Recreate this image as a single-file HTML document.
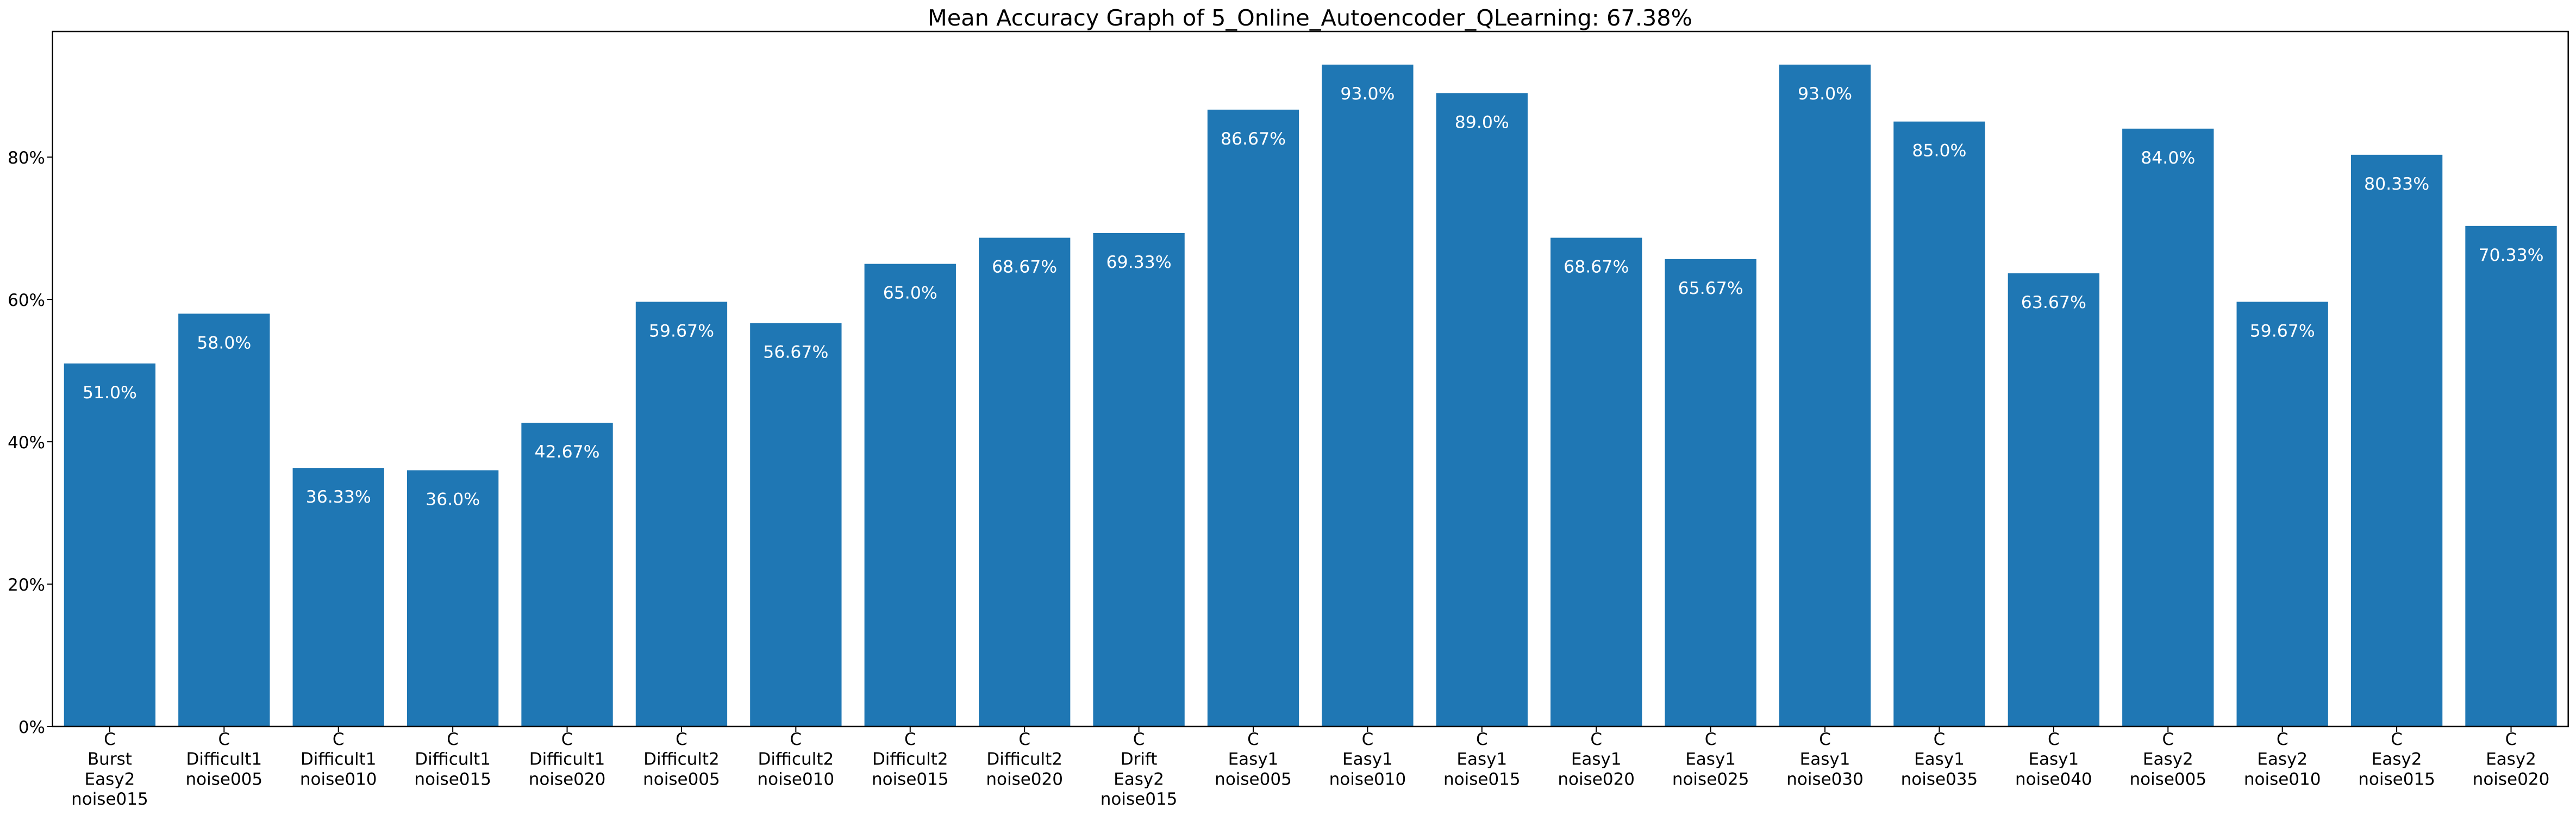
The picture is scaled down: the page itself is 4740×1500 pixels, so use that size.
<!DOCTYPE html>
<html><head><meta charset="utf-8"><style>
html,body{margin:0;padding:0;background:#fff;}
svg{display:block;font-family:"DejaVu Sans","Liberation Sans",sans-serif;}
</style></head><body>
<svg id="chart" width="4740" height="1500" viewBox="0 0 4740 1500" xmlns="http://www.w3.org/2000/svg">
<rect width="4740" height="1500" fill="#fff"/>
<text x="1707" y="47" font-size="41" textLength="1407" lengthAdjust="spacingAndGlyphs" fill="#000">Mean Accuracy Graph of 5_Online_Autoencoder_QLearning: 67.38%</text>
<g id="bars"></g>
<g id="yaxis"></g>
<g id="xaxis"></g>
<rect x="96.7" y="58" width="4629" height="1279" fill="none" stroke="#000" stroke-width="2.5"/>
</svg>
<script>
const categories = [
 ["C","Burst","Easy2","noise015"],["C","Difficult1","noise005"],["C","Difficult1","noise010"],["C","Difficult1","noise015"],
 ["C","Difficult1","noise020"],["C","Difficult2","noise005"],["C","Difficult2","noise010"],["C","Difficult2","noise015"],
 ["C","Difficult2","noise020"],["C","Drift","Easy2","noise015"],["C","Easy1","noise005"],["C","Easy1","noise010"],
 ["C","Easy1","noise015"],["C","Easy1","noise020"],["C","Easy1","noise025"],["C","Easy1","noise030"],
 ["C","Easy1","noise035"],["C","Easy1","noise040"],["C","Easy2","noise005"],["C","Easy2","noise010"],
 ["C","Easy2","noise015"],["C","Easy2","noise020"]
];
const values = [51.0,58.0,36.33,36.0,42.67,59.67,56.67,65.0,68.67,69.33,86.67,93.0,89.0,68.67,65.67,93.0,85.0,63.67,84.0,59.67,80.33,70.33];
const yTicks = [0,20,40,60,80];
const yTickLabels = ["0%","20%","40%","60%","80%"];

const NS="http://www.w3.org/2000/svg";
const L=96.7,R=4725.7,T=58,B=1337;
const n=values.length;
const yMax=Math.max(...values)*1.05;
const y=v=>B-(v/yMax)*(B-T);
const slot=(R-L)/n;
const x=i=>L+slot*(i+0.5);
const bw=slot*0.8;
function mk(tag,attrs,parent){const e=document.createElementNS(NS,tag);for(const k in attrs)e.setAttribute(k,attrs[k]);parent.appendChild(e);return e;}
const gb=document.getElementById('bars'),gy=document.getElementById('yaxis'),gx=document.getElementById('xaxis');
function fmt(v){let s=(Math.round(v*100)/100).toString();if(!s.includes('.'))s+='.0';return s+'%';}
values.forEach((v,i)=>{
  const r=mk('rect',{x:x(i)-bw/2,y:y(v),width:bw,height:B-y(v),fill:'#1f77b4'},gb);
  
  
  const t=mk('text',{x:x(i),y:y(v)+64,'font-size':31.5,'text-anchor':'middle',fill:'#fff'},gb);
  t.textContent=fmt(v);
  
  
  const tk=mk('line',{x1:x(i),x2:x(i),y1:B,y2:B+10,stroke:'#000','stroke-width':2},gx);
  
  
  const tl=mk('text',{x:x(i),y:1371,'font-size':31,'text-anchor':'middle',fill:'#000'},gx);
  
  
  categories[i].forEach((line,j)=>{const ts=mk('tspan',{x:x(i),dy:j?36.7:0},tl);ts.textContent=line;});
});
yTicks.forEach((v,i)=>{
  const tk=mk('line',{x1:L-10,x2:L,y1:y(v),y2:y(v),stroke:'#000','stroke-width':2},gy);
  
  
  const t=mk('text',{x:83,y:y(v)+12,'font-size':31,'text-anchor':'end',fill:'#000'},gy);
  t.textContent=yTickLabels[i];
  
  
});
</script>
</body></html>
